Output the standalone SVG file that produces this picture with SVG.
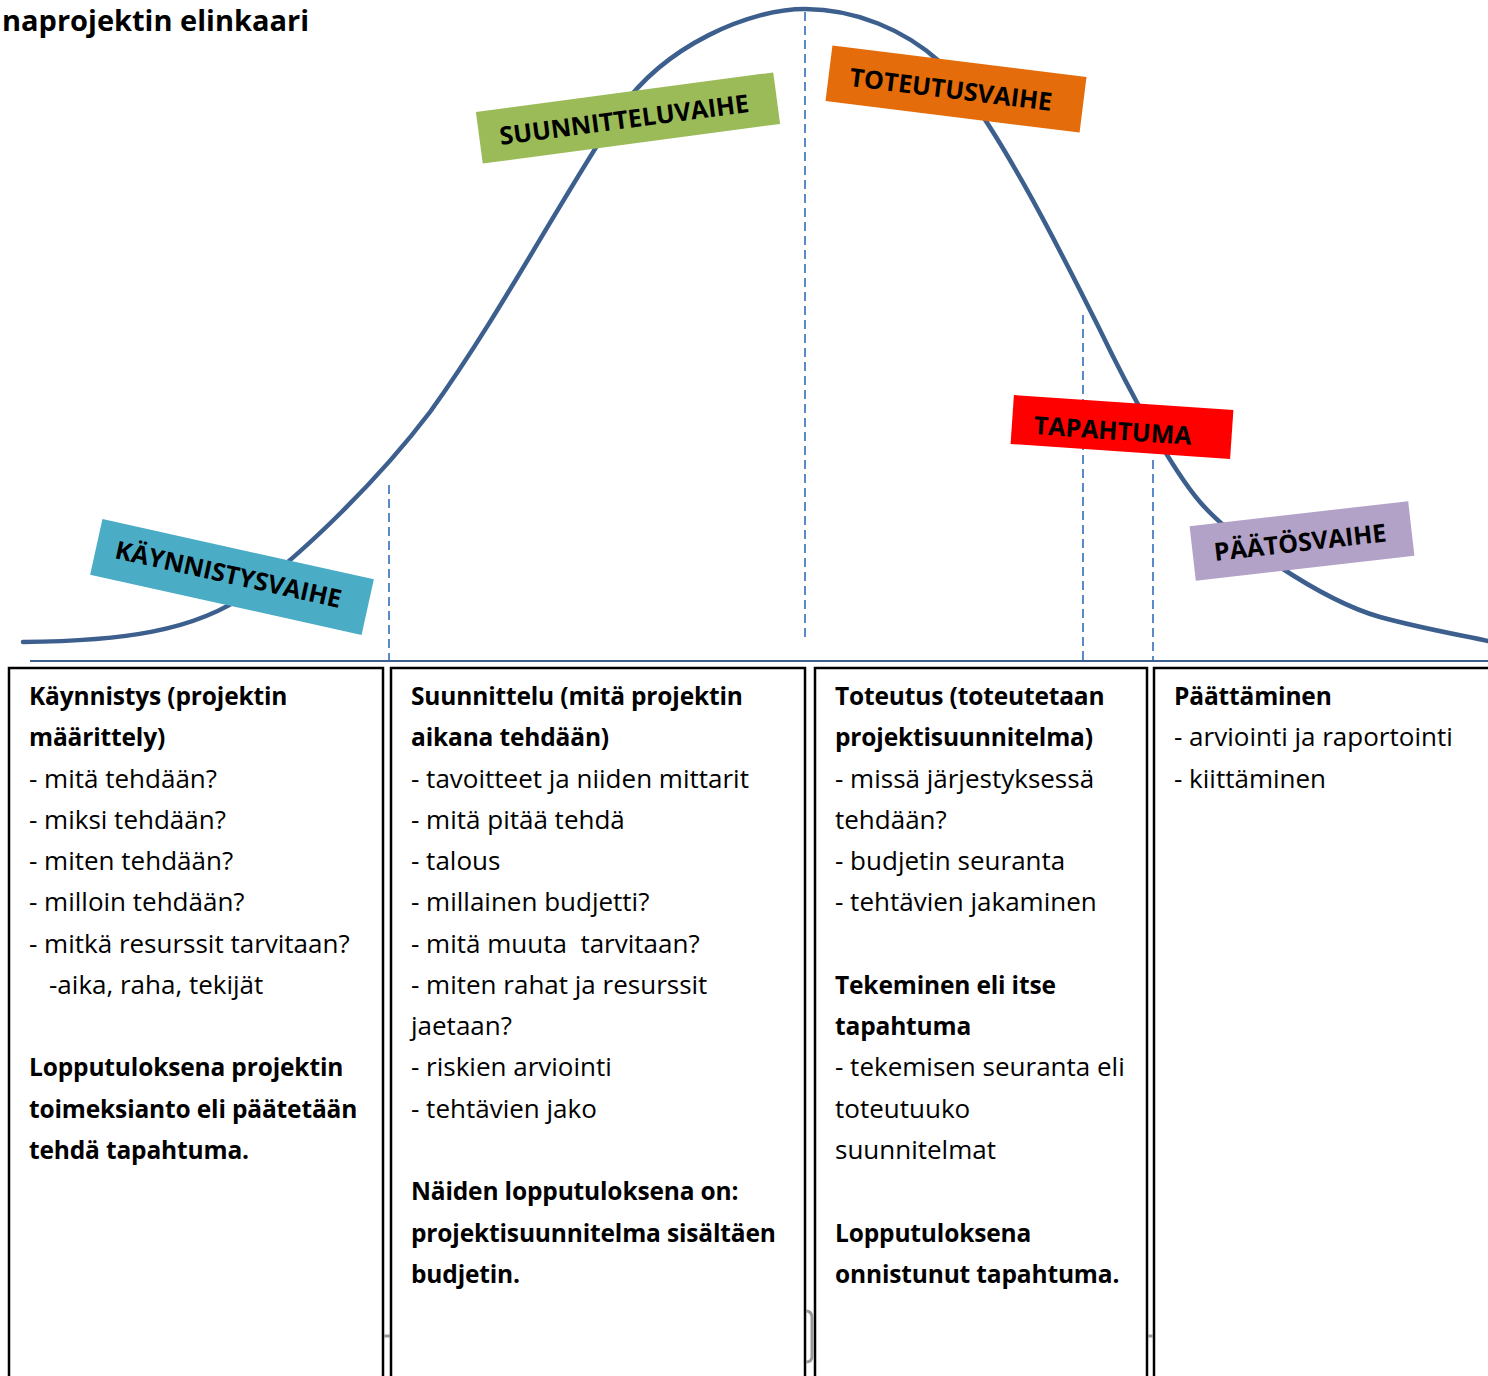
<svg xmlns="http://www.w3.org/2000/svg" width="1488" height="1376" viewBox="0 0 1488 1376">
<style>
  .t { font-family: "Open Sans", "Liberation Sans", sans-serif; font-size: 26px; fill: #000; white-space: pre; }
  .b { font-weight: bold; font-size: 24.5px; letter-spacing: -0.15px; }
  .lbl { font-family: "Open Sans", "Liberation Sans", sans-serif; font-size: 25px; font-weight: bold; fill: #000; text-anchor: middle; }
  .title { font-family: "Open Sans", "Liberation Sans", sans-serif; font-size: 29px; font-weight: bold; fill: #000; text-anchor: end; }
  .box { fill: #fff; stroke: #000; stroke-width: 2.5; }
  .dash { stroke: #5b8ac6; stroke-width: 2; stroke-dasharray: 9 5; fill: none; }
  .curve { stroke: #3d5f8e; stroke-width: 4.5; fill: none; stroke-linecap: round; }
  .base { stroke: #3d5f8e; stroke-width: 2; fill: none; }
  .mark { stroke: #9a9a9a; stroke-width: 3; fill: none; }
</style>
<rect width="1488" height="1376" fill="#fff"/>
<g id="title"><text class="title" x="309" y="31">naprojektin elinkaari</text></g>
<g id="connectors">
  <path class="curve" d="M23,642 C120,641 195,632 250,592 C305,552 380,478 430,412 C500,315 560,200 620,110 C665,45 750,9 805,9 C855,9 905,30 940,62 C990,108 1070,270 1100,330 C1128,388 1170,467 1200,502 C1230,537 1320,600 1380,617 C1420,628 1460,635 1488,641"/>
  <line class="base" x1="30" y1="661" x2="1488" y2="661"/>
  <line class="dash" x1="389" y1="485" x2="389" y2="660"/>
  <line class="dash" x1="805" y1="12" x2="805" y2="642"/>
  <line class="dash" x1="1083" y1="315" x2="1083" y2="660"/>
  <line class="dash" x1="1153" y1="460" x2="1153" y2="660"/>
</g>
<g id="label-kaynnistysvaihe" transform="translate(232,577) rotate(12.5)">
  <rect x="-139" y="-28.5" width="278" height="57" fill="#4bacc6"/>
  <text class="lbl" x="-4" y="7">KÄYNNISTYSVAIHE</text>
</g>
<g id="label-suunnitteluvaihe" transform="translate(628,118) rotate(-7.6)">
  <rect x="-150" y="-26" width="300" height="52" fill="#9bbb59"/>
  <text class="lbl" x="-4" y="10">SUUNNITTELUVAIHE</text>
</g>
<g id="label-toteutusvaihe" transform="translate(956,89) rotate(7.1)">
  <rect x="-128" y="-28" width="256" height="56" fill="#e46c0a"/>
  <text class="lbl" x="-5" y="10">TOTEUTUSVAIHE</text>
</g>
<g id="label-tapahtuma" transform="translate(1122,427) rotate(3.9)">
  <rect x="-110" y="-24.5" width="220" height="49" fill="#ff0000"/>
  <text class="lbl" x="-9" y="13">TAPAHTUMA</text>
</g>
<g id="label-paatosvaihe" transform="translate(1302,541) rotate(-6.5)">
  <rect x="-110" y="-27.5" width="220" height="55" fill="#b2a2c7"/>
  <text class="lbl" x="-2" y="10">PÄÄTÖSVAIHE</text>
</g>
<g id="box-kaynnistys">
  <rect class="box" x="9" y="668" width="374" height="730"/>
  <text class="t b" x="29" y="705">Käynnistys (projektin</text>
  <text class="t b" x="29" y="746.3">määrittely)</text>
  <text class="t" x="29" y="787.5">- mitä tehdään?</text>
  <text class="t" x="29" y="828.8">- miksi tehdään?</text>
  <text class="t" x="29" y="870.1">- miten tehdään?</text>
  <text class="t" x="29" y="911.4">- milloin tehdään?</text>
  <text class="t" x="29" y="952.6">- mitkä resurssit tarvitaan?</text>
  <text class="t" x="49" y="993.9">-aika, raha, tekijät</text>
  <text class="t b" x="29" y="1076.4">Lopputuloksena projektin</text>
  <text class="t b" x="29" y="1117.7">toimeksianto eli päätetään</text>
  <text class="t b" x="29" y="1159">tehdä tapahtuma.</text>
</g>
<g id="box-suunnittelu">
  <rect class="box" x="391" y="668" width="414" height="730"/>
  <text class="t b" x="411" y="705">Suunnittelu (mitä projektin</text>
  <text class="t b" x="411" y="746.3">aikana tehdään)</text>
  <text class="t" x="411" y="787.5">- tavoitteet ja niiden mittarit</text>
  <text class="t" x="411" y="828.8">- mitä pitää tehdä</text>
  <text class="t" x="411" y="870.1">- talous</text>
  <text class="t" x="411" y="911.4">- millainen budjetti?</text>
  <text class="t" x="411" y="952.6">- mitä muuta  tarvitaan?</text>
  <text class="t" x="411" y="993.9">- miten rahat ja resurssit</text>
  <text class="t" x="411" y="1035.2">jaetaan?</text>
  <text class="t" x="411" y="1076.4">- riskien arviointi</text>
  <text class="t" x="411" y="1117.7">- tehtävien jako</text>
  <text class="t b" x="411" y="1200.2">Näiden lopputuloksena on:</text>
  <text class="t b" x="411" y="1241.5">projektisuunnitelma sisältäen</text>
  <text class="t b" x="411" y="1282.8">budjetin.</text>
</g>
<g id="box-toteutus">
  <rect class="box" x="815" y="668" width="332" height="730"/>
  <text class="t b" x="835" y="705">Toteutus (toteutetaan</text>
  <text class="t b" x="835" y="746.3">projektisuunnitelma)</text>
  <text class="t" x="835" y="787.5">- missä järjestyksessä</text>
  <text class="t" x="835" y="828.8">tehdään?</text>
  <text class="t" x="835" y="870.1">- budjetin seuranta</text>
  <text class="t" x="835" y="911.4">- tehtävien jakaminen</text>
  <text class="t b" x="835" y="993.9">Tekeminen eli itse</text>
  <text class="t b" x="835" y="1035.2">tapahtuma</text>
  <text class="t" x="835" y="1076.4">- tekemisen seuranta eli</text>
  <text class="t" x="835" y="1117.7">toteutuuko</text>
  <text class="t" x="835" y="1159">suunnitelmat</text>
  <text class="t b" x="835" y="1241.5">Lopputuloksena</text>
  <text class="t b" x="835" y="1282.8">onnistunut tapahtuma.</text>
</g>
<g id="box-paattaminen">
  <rect class="box" x="1154" y="668" width="360" height="730"/>
  <text class="t b" x="1174" y="705">Päättäminen</text>
  <text class="t" x="1174" y="746.3">- arviointi ja raportointi</text>
  <text class="t" x="1174" y="787.5">- kiittäminen</text>
</g>
<g id="marks">
  <path class="mark" d="M806,1311 Q812,1311 812,1318 L812,1356 Q812,1362 806,1362"/>
  <line class="mark" x1="384" y1="1336" x2="390" y2="1336"/>
  <line class="mark" x1="1148" y1="1336" x2="1153" y2="1336"/>
</g>
</svg>
